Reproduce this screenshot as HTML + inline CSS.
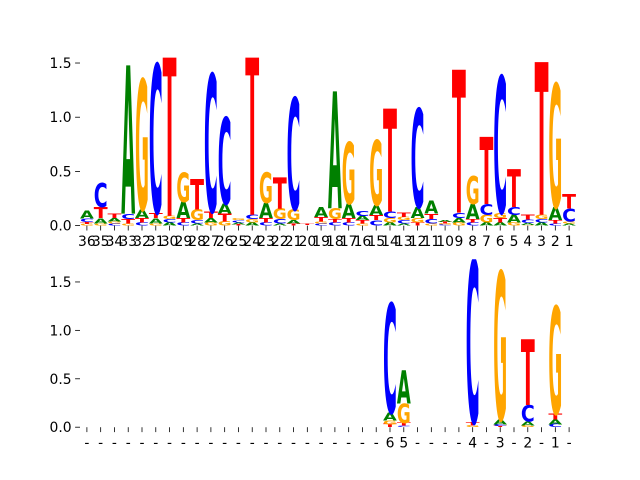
<!DOCTYPE html>
<html><head><meta charset="utf-8"><style>
html,body{margin:0;padding:0;background:#fff;}
svg{display:block;}
text{font-family:"DejaVu Sans","Liberation Sans",sans-serif;}
</style></head><body>
<svg id="chart" width="640" height="480" xmlns="http://www.w3.org/2000/svg">
<defs>
<clipPath id="clipTop"><rect x="80" y="57.6" width="496" height="168"/></clipPath>
<clipPath id="clipBot"><rect x="80" y="259.2" width="496" height="168"/></clipPath>
</defs>
<g id="top"></g>
<g id="bot"></g>
</svg>
<script>
const topLabels = ["36","35","34","33","32","31","30","29","28","27","26","25","24","23","22","21","20","19","18","17","16","15","14","13","12","11","10","9","8","7","6","5","4","3","2","1"];
const topA = [.07,.05,.03,1.37,.08,.05,.03,.15,.02,.04,.09,.02,.03,.14,.02,.03,.002,.09,1.08,.13,.04,.09,.03,.02,.10,.12,.02,.04,.14,.03,.03,.07,.02,.03,.12,.02];
const topC = [.03,.22,.02,.05,.03,1.37,.03,.03,.03,1.27,.80,.02,.04,.03,.04,1.03,.002,.02,.03,.03,.05,.05,.06,.03,.91,.04,.01,.05,.03,.10,1.26,.07,.03,.03,.02,.12];
const topG = [.015,.02,.02,.02,1.20,.02,.03,.27,.10,.03,.04,.02,.03,.28,.10,.10,.002,.02,.10,.57,.02,.60,.04,.03,.04,.02,.01,.03,.26,.07,.05,.03,.005,.04,1.14,.02];
const topT = [.02,.10,.04,.04,.04,.05,1.60,.04,.28,.06,.07,.01,1.60,.04,.29,.02,.01,.04,.03,.04,.03,.05,.95,.04,.03,.05,.015,1.32,.03,.62,.04,.35,.05,1.41,.03,.13];
const botLabels = ["-","-","-","-","-","-","-","-","-","-","-","-","-","-","-","-","-","-","-","-","-","-","6","5","-","-","-","-","4","-","3","-","2","-","1","-"];
const botA = [0,0,0,0,0,0,0,0,0,0,0,0,0,0,0,0,0,0,0,0,0,0,.08,.34,0,0,0,0,0,0,.05,0,.04,0,.05,0];
const botC = [0,0,0,0,0,0,0,0,0,0,0,0,0,0,0,0,0,0,0,0,0,0,1.13,.015,0,0,0,0,1.68,0,.02,0,.17,0,.03,0];
const botG = [0,0,0,0,0,0,0,0,0,0,0,0,0,0,0,0,0,0,0,0,0,0,.04,.20,0,0,0,0,.02,0,1.53,0,.02,0,1.11,0];
const botT = [0,0,0,0,0,0,0,0,0,0,0,0,0,0,0,0,0,0,0,0,0,0,.03,.03,0,0,0,0,.03,0,.01,0,.68,0,.06,0];
const yTicks = [0, 0.5, 1.0, 1.5];
const yTickText = ["0.0","0.5","1.0","1.5"];

const NS = "http://www.w3.org/2000/svg";
const colors = {A:"#008000", C:"#0000ff", G:"#ffa500", T:"#ff0000"};
const X0 = 80, XW = 496, N = 36;
function xCenter(i){ return X0 + (i + 0.5) * XW / N; }
const colW = XW / N * 0.9;

function mk(tag, attrs, parent){
  const el = document.createElementNS(NS, tag);
  for (const k in attrs) el.setAttribute(k, attrs[k]);
  parent.appendChild(el);
  return el;
}

function drawPanel(g, y0, yMax, clipId, labels, A, C, G, T, prefix){
  const H = 168;
  const yScale = v => y0 - v * H / yMax;
  // y ticks
  yTicks.forEach((t, k) => {
    const y = yScale(t);
    const tk = mk("line", {x1:75.1, x2:80, y1:y, y2:y, stroke:"#000", "stroke-width":0.8}, g);
    
    
    const tx = mk("text", {x:71.6, y:y + 5, "font-size":13.9, "text-anchor":"end", fill:"#000"}, g);
    tx.textContent = yTickText[k];
    
    
  });
  // x ticks
  labels.forEach((lab, i) => {
    const x = xCenter(i);
    const tk = mk("line", {x1:x, x2:x, y1:y0, y2:y0 + 4.9, stroke:"#000", "stroke-width":0.8}, g);
    
    
    const tx = mk("text", {x:x, y:y0 + 20.5, "font-size":13.9, "text-anchor":"middle", fill:"#000"}, g);
    tx.textContent = lab;
    
    
  });
  // letters
  const lg = mk("g", {"clip-path":"url(#" + clipId + ")"}, g);
  
  
  for (let i = 0; i < N; i++){
    const items = [["A", A[i]], ["C", C[i]], ["G", G[i]], ["T", T[i]]].filter(d => d[1] > 0);
    items.sort((a, b) => a[1] - b[1]);
    let base = 0;
    const left = xCenter(i) - colW / 2;
    items.forEach(([letter, h]) => {
      const yb = yScale(base), yt = yScale(base + h);
      const ph = yb - yt;
      base += h;
      if (ph < 0.05) return;
      const sx = colW * 1.12 / 100, sy = ph / 73;
      const t = mk("text", {
        x:0, y:0, "font-size":100, "font-weight":"bold", fill:colors[letter],
        textLength:100, lengthAdjust:"spacingAndGlyphs",
        transform:"translate(" + (left - colW * 0.06) + "," + yb + ") scale(" + sx + "," + sy + ")"
      }, lg);
      t.textContent = letter;
      
      
    });
  }
}

drawPanel(document.getElementById("top"), 225.6, 1.55, "clipTop", topLabels, topA, topC, topG, topT, "top");
drawPanel(document.getElementById("bot"), 427.2, 1.735, "clipBot", botLabels, botA, botC, botG, botT, "bottom");
</script>
</body></html>
